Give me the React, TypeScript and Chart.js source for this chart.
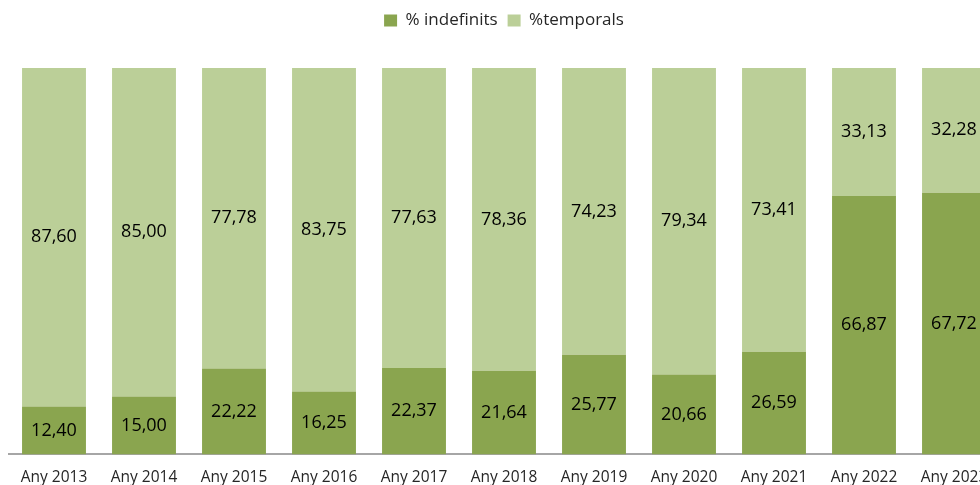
import React, { useEffect, useRef } from "react";
import { Chart, registerables } from "chart.js";

Chart.register(...registerables);

const categories = ["Any 2013", "Any 2014", "Any 2015", "Any 2016", "Any 2017", "Any 2018", "Any 2019", "Any 2020", "Any 2021", "Any 2022", "Any 2023"];
const indefinits = [12.40, 15.00, 22.22, 16.25, 22.37, 21.64, 25.77, 20.66, 26.59, 66.87, 67.72];
const temporals = [87.60, 85.00, 77.78, 83.75, 77.63, 78.36, 74.23, 79.34, 73.41, 33.13, 32.28];

const DARK = "#8aa54f";
const LIGHT = "#bbcf98";
const FONT = "'Open Sans', 'Noto Sans', sans-serif";

const labelPlugin = {
  id: "segLabels",
  afterDatasetsDraw(chart: any) {
    const ctx = chart.ctx;
    ctx.save();
    ctx.font = `18px ${FONT}`;
    ctx.fillStyle = "#000000";
    ctx.textAlign = "center";
    ctx.textBaseline = "middle";
    chart.data.datasets.forEach((ds: any, di: number) => {
      const meta = chart.getDatasetMeta(di);
      meta.data.forEach((bar: any, i: number) => {
        const v = ds.data[i] as number;
        const y = (bar.y + bar.base) / 2;
        ctx.fillText(v.toFixed(2).replace(".", ","), bar.x, y);
      });
    });
    ctx.restore();
  },
};

const legendMargin = {
  id: "legendMargin",
  beforeInit(chart: any) {
    const orig = chart.legend.fit;
    chart.legend.fit = function () {
      orig.bind(chart.legend)();
      this.height += 29;
    };
  },
};

export default function App() {
  const ref = useRef<HTMLCanvasElement>(null);
  useEffect(() => {
    if (!ref.current) return;
    const chart = new Chart(ref.current, {
      type: "bar",
      data: {
        labels: categories,
        datasets: [
          { label: "% indefinits", data: indefinits, backgroundColor: DARK, borderWidth: 0 },
          { label: "%temporals", data: temporals, backgroundColor: LIGHT, borderWidth: 0 },
        ],
      },
      options: {
        animation: false,
        responsive: false,
        maintainAspectRatio: false,
        layout: { padding: { left: 9, right: 8, top: 2, bottom: -16 } },
        datasets: { bar: { categoryPercentage: 1, barPercentage: 0.71 } },
        scales: {
          x: {
            stacked: true,
            grid: { display: false, drawTicks: false },
            border: { display: true, color: "#a6a6a6", width: 2 },
            ticks: { color: "#262626", font: { family: FONT, size: 15.5 }, padding: 14, maxRotation: 0, autoSkip: false },
          },
          y: { stacked: true, display: false, min: 0, max: 100 },
        },
        plugins: {
          legend: {
            position: "top",
            labels: {
              boxWidth: 13,
              boxHeight: 12,
              color: "#262626",
              font: { family: FONT, size: 17 },
              padding: 10,
            },
          },
          tooltip: { enabled: false },
        },
      },
      plugins: [labelPlugin, legendMargin],
    });
    return () => chart.destroy();
  }, []);
  return (
    <div style={{ position: "fixed", left: 0, top: 0, width: 980, height: 485, overflow: "hidden", background: "#fff" }}>
      <canvas ref={ref} width={1007} height={485} style={{ width: 1007, height: 485, display: "block" }} />
    </div>
  );
}
